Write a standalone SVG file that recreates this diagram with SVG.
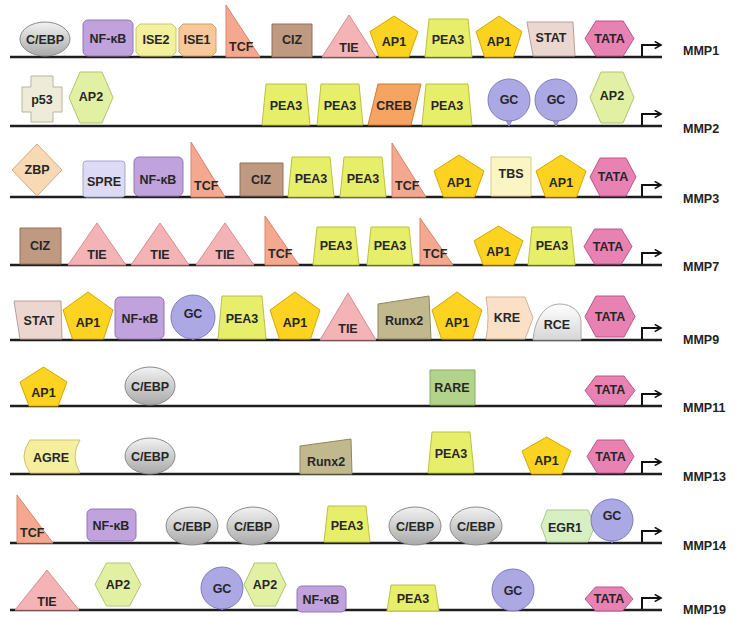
<svg xmlns="http://www.w3.org/2000/svg" width="737" height="618" viewBox="0 0 737 618">
<defs>
<style>
.t{font-family:"Liberation Sans Narrow","Liberation Sans",Arial,sans-serif;font-weight:bold;font-size:12.5px;text-anchor:middle;fill:#262626}
.ts{text-anchor:start}
.lab{font-family:"Liberation Sans Narrow","Liberation Sans",Arial,sans-serif;font-weight:bold;font-size:12.5px;fill:#222}
.dna{stroke:#1e1e1e;stroke-width:2.5;fill:none}
.prom{stroke:#111;stroke-width:2;fill:none}
.s{stroke-width:1;stroke-linejoin:round}
.cebp{fill:url(#gGray);stroke:#8a8a8a}
.nfkb{fill:#c0a3dc;stroke:#9474b8}
.ise2{fill:#f3f19c;stroke:#c9c66a}
.ise1{fill:#f8c898;stroke:#d39d68}
.tcf{fill:#f3a88f;stroke:#d78469}
.ciz{fill:#c09a80;stroke:#93705a}
.tie{fill:#f4b4b6;stroke:#d98c8e}
.ap1{fill:#fcd320;stroke:#d6a900}
.pea3{fill:#e6ee6a;stroke:#b9c23c}
.stat{fill:#ecd6d0;stroke:#b89e98}
.tata{fill:#e882b3;stroke:#bf5488}
.p53{fill:#eeecd8;stroke:#b8b59c}
.ap2{fill:#e2f0a4;stroke:#b2c474}
.creb{fill:#f6a462;stroke:#cf7a38}
.gc{fill:#aba8e4;stroke:#7f7bc0}
.zbp{fill:#f9d9b4;stroke:#d1ab82}
.spre{fill:#dcdaf4;stroke:#a9a6d0}
.tbs{fill:#fbf5c3;stroke:#d2ca8e}
.runx{fill:#c1b98d;stroke:#8f875d}
.kre{fill:#fbe0c8;stroke:#d3b394}
.rce{fill:url(#gWhite);stroke:#a8a8a8}
.rare{fill:#b2d48a;stroke:#85aa5c}
.agre{fill:#f5ee9c;stroke:#cbc36a}
.egr{fill:#d8efc2;stroke:#a8c690}
</style>
<linearGradient id="gGray" x1="0" y1="0" x2="0" y2="1">
<stop offset="0" stop-color="#f2f2f2"/><stop offset="1" stop-color="#a9a9a9"/>
</linearGradient>
<linearGradient id="gWhite" x1="0" y1="0" x2="0" y2="1">
<stop offset="0" stop-color="#ffffff"/><stop offset="1" stop-color="#d6d6d6"/>
</linearGradient>
<marker id="ah" viewBox="0 0 10 10" refX="8" refY="5" markerWidth="9" markerHeight="9" orient="auto" markerUnits="userSpaceOnUse">
<path d="M1,1 L8,5 L1,9" fill="none" stroke="#111" stroke-width="1.8"/>
</marker>
</defs>
<rect width="737" height="618" fill="#ffffff"/>

<g id="connectors">
<path class="dna" d="M10,57 H662"/>
<path class="dna" d="M10,126 H662"/>
<path class="dna" d="M10,197 H662"/>
<path class="dna" d="M10,265 H662"/>
<path class="dna" d="M10,340 H662"/>
<path class="dna" d="M10,406 H662"/>
<path class="dna" d="M10,474 H662"/>
<path class="dna" d="M10,543 H662"/>
<path class="dna" d="M10,610 H662"/>
<path class="prom" d="M642,56 V45 H661" marker-end="url(#ah)"/>
<path class="prom" d="M642,125 V114 H661" marker-end="url(#ah)"/>
<path class="prom" d="M642,196 V185 H661" marker-end="url(#ah)"/>
<path class="prom" d="M642,264 V253 H661" marker-end="url(#ah)"/>
<path class="prom" d="M642,339 V328 H661" marker-end="url(#ah)"/>
<path class="prom" d="M642,405 V394 H661" marker-end="url(#ah)"/>
<path class="prom" d="M642,473 V462 H661" marker-end="url(#ah)"/>
<path class="prom" d="M642,542 V531 H661" marker-end="url(#ah)"/>
<path class="prom" d="M642,609 V598 H661" marker-end="url(#ah)"/>
</g>

<!-- MMP1 -->
<g id="mmp1">
<g id="mmp1-cebp"><ellipse class="s cebp" cx="45" cy="39" rx="25" ry="17"/><text class="t" x="45" y="44">C/EBP</text></g>
<g id="mmp1-nfkb"><rect class="s nfkb" x="83" y="20" width="50" height="36" rx="5"/><text class="t" x="108" y="43">NF-κB</text></g>
<g id="mmp1-ise2"><polygon class="s ise2" points="140,24 172,24 176,28 176,52 172,56 140,56 136,52 136,28"/><text class="t" x="156" y="44">ISE2</text></g>
<g id="mmp1-ise1"><polygon class="s ise1" points="183,24 212,24 216,28 216,52 212,56 183,56 179,52 179,28"/><text class="t" x="197" y="44">ISE1</text></g>
<g id="mmp1-tcf"><polygon class="s tcf" points="226,5 226,57 260,57"/><text class="t ts" x="229" y="51">TCF</text></g>
<g id="mmp1-ciz"><rect class="s ciz" x="272" y="24" width="40" height="33"/><text class="t" x="292" y="44">CIZ</text></g>
<g id="mmp1-tie"><polygon class="s tie" points="322,57 349,15 376,57"/><text class="t" x="349" y="52">TIE</text></g>
<g id="mmp1-ap1a"><polygon class="s ap1" points="394,16 418,31.6 408.9,57 379.1,57 370,31.6"/><text class="t" x="394" y="46">AP1</text></g>
<g id="mmp1-pea3"><polygon class="s pea3" points="429,19 468,19 472,57 425,57"/><text class="t" x="448" y="44">PEA3</text></g>
<g id="mmp1-ap1b"><polygon class="s ap1" points="499,16 522,31.6 513.3,57 484.7,57 476,31.6"/><text class="t" x="499" y="46">AP1</text></g>
<g id="mmp1-stat"><polygon class="s stat" points="527,22 573,22 575,56 533,56"/><text class="t" x="551" y="42">STAT</text></g>
<g id="mmp1-tata"><polygon class="s tata" points="585,38.5 595.8,21 623.2,21 634,38.5 623.2,56 595.8,56"/><text class="t" x="609.5" y="43">TATA</text></g>
<text class="lab" x="683" y="55">MMP1</text>
</g>

<!-- MMP2 -->
<g id="mmp2">
<g id="mmp2-p53"><polygon class="s p53" points="31,76 53,76 53,87 62,87 62,112 53,112 53,122 31,122 31,112 22,112 22,87 31,87"/><text class="t" x="42" y="104">p53</text></g>
<g id="mmp2-ap2a"><polygon class="s ap2" points="69,97.5 80,72 102,72 113,97.5 102,123 80,123"/><text class="t" x="91" y="101">AP2</text></g>
<g id="mmp2-pea3a"><polygon class="s pea3" points="266,84 306,84 310,125 262,125"/><text class="t" x="286" y="110">PEA3</text></g>
<g id="mmp2-pea3b"><polygon class="s pea3" points="321,84 359,84 363,125 317,125"/><text class="t" x="340" y="110">PEA3</text></g>
<g id="mmp2-creb"><polygon class="s creb" points="378,84 421,84 411,125 368,125"/><text class="t" x="394" y="110">CREB</text></g>
<g id="mmp2-pea3c"><polygon class="s pea3" points="426,84 468,84 472,125 422,125"/><text class="t" x="447" y="110">PEA3</text></g>
<g id="mmp2-gca"><polygon class="s gc" points="505,118 513,118 509,126"/><circle class="s gc" cx="509" cy="100" r="21"/><text class="t" x="509" y="104">GC</text></g>
<g id="mmp2-gcb"><polygon class="s gc" points="552,118 560,118 556,126"/><circle class="s gc" cx="556" cy="100" r="21"/><text class="t" x="556" y="104">GC</text></g>
<g id="mmp2-ap2b"><polygon class="s ap2" points="590,97.5 601,72 623,72 634,97.5 623,123 601,123"/><text class="t" x="612" y="100">AP2</text></g>
<text class="lab" x="683" y="133">MMP2</text>
</g>

<!-- MMP3 -->
<g id="mmp3">
<g id="mmp3-zbp"><polygon class="s zbp" points="37,144 62,170 37,196 12,170"/><text class="t" x="37" y="174">ZBP</text></g>
<g id="mmp3-spre"><rect class="s spre" x="83" y="161" width="42" height="36" rx="3"/><text class="t" x="104" y="186">SPRE</text></g>
<g id="mmp3-nfkb"><rect class="s nfkb" x="134" y="157" width="49" height="39" rx="5"/><text class="t" x="158" y="184">NF-κB</text></g>
<g id="mmp3-tcfa"><polygon class="s tcf" points="191,142 191,197 225,197"/><text class="t ts" x="194" y="190">TCF</text></g>
<g id="mmp3-ciz"><rect class="s ciz" x="240" y="163" width="43" height="33"/><text class="t" x="261" y="184">CIZ</text></g>
<g id="mmp3-pea3a"><polygon class="s pea3" points="292,157 330,157 334,197 288,197"/><text class="t" x="311" y="183">PEA3</text></g>
<g id="mmp3-pea3b"><polygon class="s pea3" points="344,157 382,157 386,197 340,197"/><text class="t" x="363" y="183">PEA3</text></g>
<g id="mmp3-tcfb"><polygon class="s tcf" points="392,143 392,197 426,197"/><text class="t ts" x="395" y="190">TCF</text></g>
<g id="mmp3-ap1a"><polygon class="s ap1" points="459,155 484,171 474.5,197 443.5,197 434,171"/><text class="t" x="459" y="187">AP1</text></g>
<g id="mmp3-tbs"><rect class="s tbs" x="491" y="157" width="40" height="39"/><text class="t" x="511" y="178">TBS</text></g>
<g id="mmp3-ap1b"><polygon class="s ap1" points="561,155 586,171 576.5,197 545.5,197 536,171"/><text class="t" x="561" y="187">AP1</text></g>
<g id="mmp3-tata"><polygon class="s tata" points="590,177 600,158 626,158 636,177 626,196 600,196"/><text class="t" x="613" y="181">TATA</text></g>
<text class="lab" x="683" y="203">MMP3</text>
</g>

<!-- MMP7 -->
<g id="mmp7">
<g id="mmp7-ciz"><rect class="s ciz" x="20" y="228" width="41" height="36"/><text class="t" x="40" y="250">CIZ</text></g>
<g id="mmp7-tiea"><polygon class="s tie" points="68,265 97,223 126,265"/><text class="t" x="97" y="259">TIE</text></g>
<g id="mmp7-tieb"><polygon class="s tie" points="131,265 160,223 189,265"/><text class="t" x="160" y="259">TIE</text></g>
<g id="mmp7-tiec"><polygon class="s tie" points="196,265 225,223 254,265"/><text class="t" x="225" y="259">TIE</text></g>
<g id="mmp7-tcfa"><polygon class="s tcf" points="265,216 265,265 299,265"/><text class="t ts" x="268" y="258">TCF</text></g>
<g id="mmp7-pea3a"><polygon class="s pea3" points="317,227 355,227 359,265 313,265"/><text class="t" x="336" y="250">PEA3</text></g>
<g id="mmp7-pea3b"><polygon class="s pea3" points="371,227 409,227 413,265 367,265"/><text class="t" x="390" y="250">PEA3</text></g>
<g id="mmp7-tcfb"><polygon class="s tcf" points="420,218 420,265 453,265"/><text class="t ts" x="423" y="258">TCF</text></g>
<g id="mmp7-ap1"><polygon class="s ap1" points="498.5,226 523,240.8 513.7,265 483.3,265 474,240.8"/><text class="t" x="498.5" y="256">AP1</text></g>
<g id="mmp7-pea3c"><polygon class="s pea3" points="532,227 571,227 575,265 528,265"/><text class="t" x="552" y="250">PEA3</text></g>
<g id="mmp7-tata"><polygon class="s tata" points="584,246.5 594.5,229 621.5,229 632,246.5 621.5,264 594.5,264"/><text class="t" x="608" y="251">TATA</text></g>
<text class="lab" x="683" y="271">MMP7</text>
</g>

<!-- MMP9 -->
<g id="mmp9">
<g id="mmp9-stat"><polygon class="s stat" points="14,301 61,301 62,339 20,339"/><text class="t" x="39" y="325">STAT</text></g>
<g id="mmp9-ap1a"><polygon class="s ap1" points="88,292 113,310 103.5,339 72.5,339 63,310"/><text class="t" x="88" y="327">AP1</text></g>
<g id="mmp9-nfkb"><rect class="s nfkb" x="115" y="297" width="49" height="42" rx="5"/><text class="t" x="140" y="323">NF-κB</text></g>
<g id="mmp9-gc"><polygon class="s gc" points="189,335 197,335 193,340"/><circle class="s gc" cx="193" cy="317" r="22"/><text class="t" x="193" y="318">GC</text></g>
<g id="mmp9-pea3"><polygon class="s pea3" points="222,296 262,296 266,339 218,339"/><text class="t" x="242" y="323">PEA3</text></g>
<g id="mmp9-ap1b"><polygon class="s ap1" points="295,292 320,310 310.5,339 279.5,339 270,310"/><text class="t" x="295" y="327">AP1</text></g>
<g id="mmp9-tie"><polygon class="s tie" points="320,340 348,293 376,340"/><text class="t" x="348" y="333">TIE</text></g>
<g id="mmp9-runx2"><polygon class="s runx" points="378,304 429,296 431,339 378,339"/><text class="t" x="404" y="325">Runx2</text></g>
<g id="mmp9-ap1c"><polygon class="s ap1" points="457,292 482,310 472.5,339 441.5,339 432,310"/><text class="t" x="457" y="327">AP1</text></g>
<g id="mmp9-kre"><path class="s kre" d="M486,297 H525 L533,318 L525,339 H486 Q490,318 486,297 Z"/><text class="t" x="507" y="322">KRE</text></g>
<g id="mmp9-rce"><path class="s rce" d="M533,340 C535,318 545,304 560,304 C572,304 581,312 581,322 V340 Z"/><text class="t" x="557" y="329">RCE</text></g>
<g id="mmp9-tata"><polygon class="s tata" points="585,316.5 596,296 624,296 635,316.5 624,337 596,337"/><text class="t" x="610" y="321">TATA</text></g>
<text class="lab" x="683" y="344">MMP9</text>
</g>

<!-- MMP11 -->
<g id="mmp11">
<g id="mmp11-ap1"><polygon class="s ap1" points="43.5,367 67,382 58,406 29,406 20,382"/><text class="t" x="43.5" y="397">AP1</text></g>
<g id="mmp11-cebp"><ellipse class="s cebp" cx="150" cy="386" rx="25" ry="19"/><text class="t" x="150" y="391">C/EBP</text></g>
<g id="mmp11-rare"><rect class="s rare" x="430" y="370" width="45" height="35"/><text class="t" x="452" y="392">RARE</text></g>
<g id="mmp11-tata"><polygon class="s tata" points="585,390.5 596,376 624,376 635,390.5 624,405 596,405"/><text class="t" x="610" y="394">TATA</text></g>
<text class="lab" x="683" y="412">MMP11</text>
</g>

<!-- MMP13 -->
<g id="mmp13">
<g id="mmp13-agre"><path class="s agre" d="M30,440 H80 Q70,456 80,473 H30 Q18,456 30,440 Z"/><text class="t" x="51" y="462">AGRE</text></g>
<g id="mmp13-cebp"><ellipse class="s cebp" cx="150" cy="456" rx="25" ry="18"/><text class="t" x="150" y="461">C/EBP</text></g>
<g id="mmp13-runx2"><polygon class="s runx" points="300,446 351,439 352,474 300,474"/><text class="t" x="326" y="466">Runx2</text></g>
<g id="mmp13-pea3"><polygon class="s pea3" points="432,432 470,432 474,473 428,473"/><text class="t" x="451" y="458">PEA3</text></g>
<g id="mmp13-ap1"><polygon class="s ap1" points="546.5,437 571,451 561.7,474 531.3,474 522,451"/><text class="t" x="546.5" y="465">AP1</text></g>
<g id="mmp13-tata"><polygon class="s tata" points="587,456.5 597.3,440 623.7,440 634,456.5 623.7,473 597.3,473"/><text class="t" x="610.5" y="461">TATA</text></g>
<text class="lab" x="683" y="481">MMP13</text>
</g>

<!-- MMP14 -->
<g id="mmp14">
<g id="mmp14-tcf"><polygon class="s tcf" points="17,495 17,543 53,543"/><text class="t ts" x="20" y="537">TCF</text></g>
<g id="mmp14-nfkb"><rect class="s nfkb" x="87" y="509" width="49" height="32" rx="5"/><text class="t" x="111" y="530">NF-κB</text></g>
<g id="mmp14-cebpa"><ellipse class="s cebp" cx="192" cy="526" rx="26" ry="19"/><text class="t" x="192" y="531">C/EBP</text></g>
<g id="mmp14-cebpb"><ellipse class="s cebp" cx="253" cy="526" rx="26" ry="19"/><text class="t" x="253" y="531">C/EBP</text></g>
<g id="mmp14-pea3"><polygon class="s pea3" points="328,506 366,506 370,542 324,542"/><text class="t" x="347" y="530">PEA3</text></g>
<g id="mmp14-cebpc"><ellipse class="s cebp" cx="415" cy="526" rx="26" ry="19"/><text class="t" x="415" y="531">C/EBP</text></g>
<g id="mmp14-cebpd"><ellipse class="s cebp" cx="476" cy="526" rx="26" ry="19"/><text class="t" x="476" y="531">C/EBP</text></g>
<g id="mmp14-egr1"><polygon class="s egr" points="547,510 588,510 595,526 588,542 547,542 541,526"/><text class="t" x="565" y="532">EGR1</text></g>
<g id="mmp14-gc"><polygon class="s gc" points="608,538 616,538 612,543"/><circle class="s gc" cx="612" cy="520" r="21"/><text class="t" x="612" y="520">GC</text></g>
<text class="lab" x="683" y="550">MMP14</text>
</g>

<!-- MMP19 -->
<g id="mmp19">
<g id="mmp19-tie"><polygon class="s tie" points="15,610 47,570 79,610"/><text class="t" x="47" y="606">TIE</text></g>
<g id="mmp19-ap2a"><polygon class="s ap2" points="95,584.5 106.5,563 129.5,563 141,584.5 129.5,606 106.5,606"/><text class="t" x="118" y="589">AP2</text></g>
<g id="mmp19-gca"><polygon class="s gc" points="218,606 226,606 222,610"/><circle class="s gc" cx="222" cy="588" r="21"/><text class="t" x="222" y="593">GC</text></g>
<g id="mmp19-ap2b"><polygon class="s ap2" points="244,584.5 254.5,563 275.5,563 286,584.5 275.5,606 254.5,606"/><text class="t" x="265" y="589">AP2</text></g>
<g id="mmp19-nfkb"><rect class="s nfkb" x="297" y="586" width="49" height="26" rx="5"/><text class="t" x="321" y="604">NF-κB</text></g>
<g id="mmp19-pea3"><polygon class="s pea3" points="391,585 435,585 439,611 387,611"/><text class="t" x="413" y="603">PEA3</text></g>
<g id="mmp19-gcb"><polygon class="s gc" points="509,608 517,608 513,610"/><circle class="s gc" cx="513" cy="590" r="21"/><text class="t" x="513" y="595">GC</text></g>
<g id="mmp19-tata"><polygon class="s tata" points="585,599 595.5,587 622.5,587 633,599 622.5,611 595.5,611"/><text class="t" x="609" y="603">TATA</text></g>
<text class="lab" x="683" y="614">MMP19</text>
</g>
</svg>
